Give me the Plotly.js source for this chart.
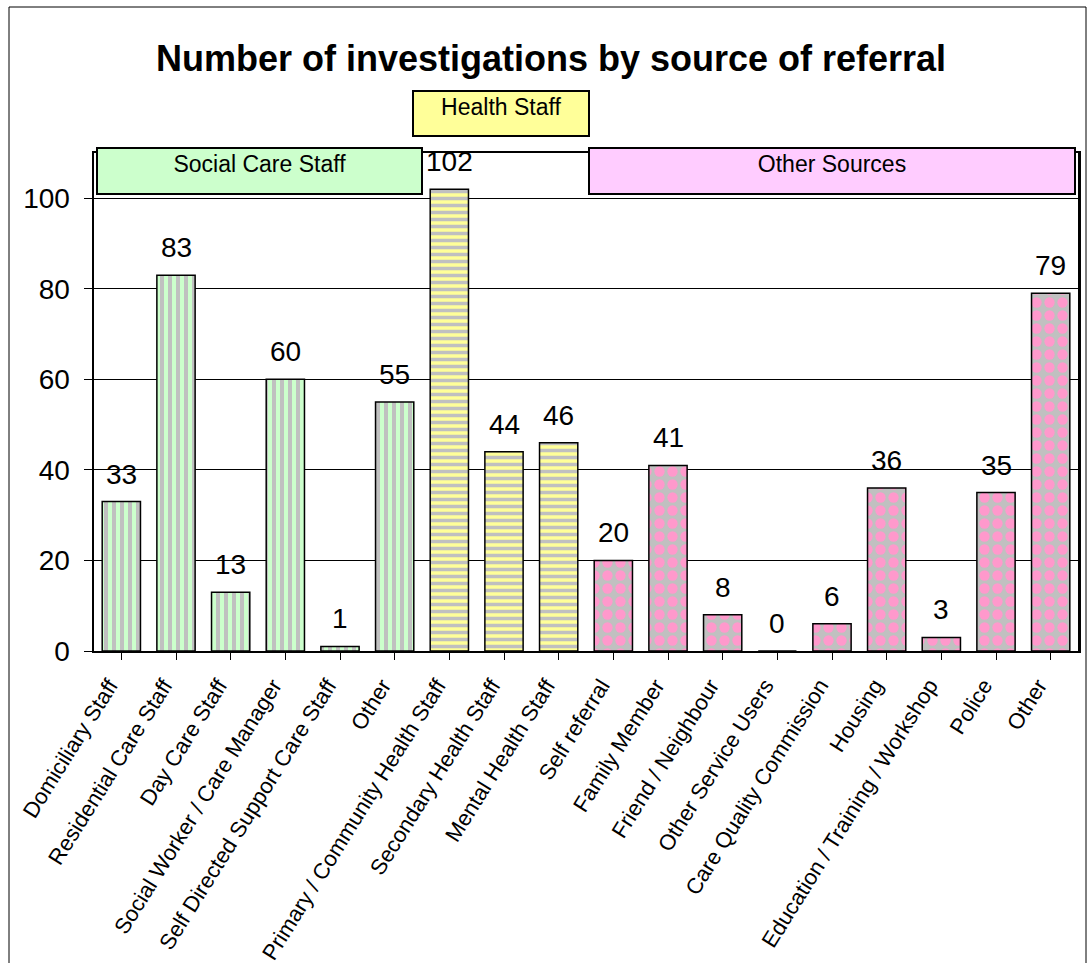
<!DOCTYPE html>
<html>
<head>
<meta charset="utf-8">
<script src="https://cdn.plot.ly/plotly-3.0.1.min.js"></script>
<style>
  html, body { margin: 0; padding: 0; background: #ffffff; }
  #chart { width: 1091px; height: 963px; }
</style>
</head>
<body>
<div id="chart"></div>
<script>
// ---- data ----
const categories = [
  "Domiciliary Staff", "Residential Care Staff", "Day Care Staff",
  "Social Worker / Care Manager", "Self Directed Support Care Staff", "Other",
  "Primary / Community Health Staff", "Secondary Health Staff", "Mental Health Staff",
  "Self referral", "Family Member", "Friend / Neighbour", "Other Service Users",
  "Care Quality Commission", "Housing", "Education / Training / Workshop", "Police", "Other"
];
const socialCareValues = [33, 83, 13, 60, 1, 55];
const healthValues = [102, 44, 46];
const otherSourceValues = [20, 41, 8, 0, 6, 36, 3, 35, 79];
const groupLabels = ["Social Care Staff", "Health Staff", "Other Sources"];
const yTicks = [0, 20, 40, 60, 80, 100];

// ---- layout helpers (pixel -> paper) ----
const W = 1091, H = 963;
const M = { l: 94, r: 13, t: 153, b: 312 };
const pw = W - M.l - M.r, ph = H - M.t - M.b;
const px = x => (x - M.l) / pw;
const py = y => (H - M.b - y) / ph;

const idx = categories.map((_, i) => i);
const xs = idx.slice(0, 6), xh = idx.slice(6, 9), xo = idx.slice(9);

const font = "Arial, 'Liberation Sans', sans-serif";
const outline = { color: "#000000", width: 1.5 };

const traces = [
  {
    type: "bar", x: xs, y: socialCareValues, name: groupLabels[0],
    marker: { color: "#ccffcc", line: outline,
      pattern: { shape: "|", fgcolor: "#c0c0c0", bgcolor: "#ccffcc", size: 8, solidity: 0.5, fillmode: "replace" } },
    hoverinfo: "y"
  },
  {
    type: "bar", x: xh, y: healthValues, name: groupLabels[1],
    marker: { color: "#ffff99", line: outline,
      pattern: { shape: "-", fgcolor: "#c0c0c0", bgcolor: "#ffff99", size: 7, solidity: 0.5, fillmode: "replace" } },
    hoverinfo: "y"
  },
  {
    type: "bar", x: xo, y: otherSourceValues, name: groupLabels[2],
    marker: { color: "#c0c0c0", line: outline,
      pattern: { shape: ".", fgcolor: "#ff99cc", bgcolor: "#c0c0c0", size: 13, solidity: 0.5, fillmode: "replace" } },
    hoverinfo: "y"
  }
];

const allValues = socialCareValues.concat(healthValues, otherSourceValues);
const annotations = allValues.map((v, i) => ({
  x: i, y: v, xref: "x", yref: "y", text: String(v), showarrow: false,
  yanchor: "bottom", yshift: 10, font: { family: font, size: 28, color: "#000000" }
}));

function box(x0, x1, y0, y1, fill, label) {
  return {
    type: "rect", xref: "paper", yref: "paper", layer: "above",
    x0: px(x0), x1: px(x1), y0: py(y1), y1: py(y0),
    fillcolor: fill, line: { color: "#000000", width: 2 },
    label: { text: label, font: { family: font, size: 23, color: "#000000" },
             textposition: "top center", padding: 1 }
  };
}

const shapes = [
  box(97, 422, 148, 194, "#ccffcc", groupLabels[0]),
  box(413, 589, 91, 136, "#ffff99", groupLabels[1]),
  box(589, 1075, 148, 194, "#ffccff", groupLabels[2]),
  { type: "rect", xref: "paper", yref: "paper", layer: "below",
    x0: px(9), x1: px(1086), y0: py(975), y1: py(7),
    line: { color: "#000000", width: 1 }, fillcolor: "rgba(0,0,0,0)" }
];

const layout = {
  width: W, height: H,
  margin: M,
  paper_bgcolor: "#ffffff", plot_bgcolor: "#ffffff",
  showlegend: false,
  bargap: 0.3,
  barmode: "overlay",
  title: {
    text: "<b>Number of investigations by source of referral</b>",
    xref: "container", yref: "container",
    x: 551 / W, xanchor: "center", y: 1 - 58 / H, yanchor: "middle",
    font: { family: font, size: 36, color: "#000000" }
  },
  xaxis: {
    range: [-0.5, categories.length - 0.5],
    tickmode: "array", tickvals: idx, ticktext: categories,
    tickangle: -58, tickfont: { family: font, size: 22, color: "#000000" },
    ticks: "outside", ticklen: 7, tickcolor: "#000000", tickson: "boundaries",
    ticklabelstandoff: 4, ticklabelshift: -12,
    showline: true, linecolor: "#000000", linewidth: 2, mirror: true,
    showgrid: false, zeroline: false, fixedrange: true
  },
  yaxis: {
    range: [0, 110],
    tickmode: "array", tickvals: yTicks,
    tickfont: { family: font, size: 28, color: "#000000" },
    ticks: "outside", ticklen: 8, tickcolor: "#000000",
    ticklabelstandoff: 8,
    showline: true, linecolor: "#000000", linewidth: 2.5, mirror: true,
    showgrid: true, gridcolor: "#000000", gridwidth: 1,
    zeroline: false, fixedrange: true
  },
  annotations: annotations,
  shapes: shapes
};

Plotly.newPlot("chart", traces, layout, { displayModeBar: false, staticPlot: true });
</script>
</body>
</html>
